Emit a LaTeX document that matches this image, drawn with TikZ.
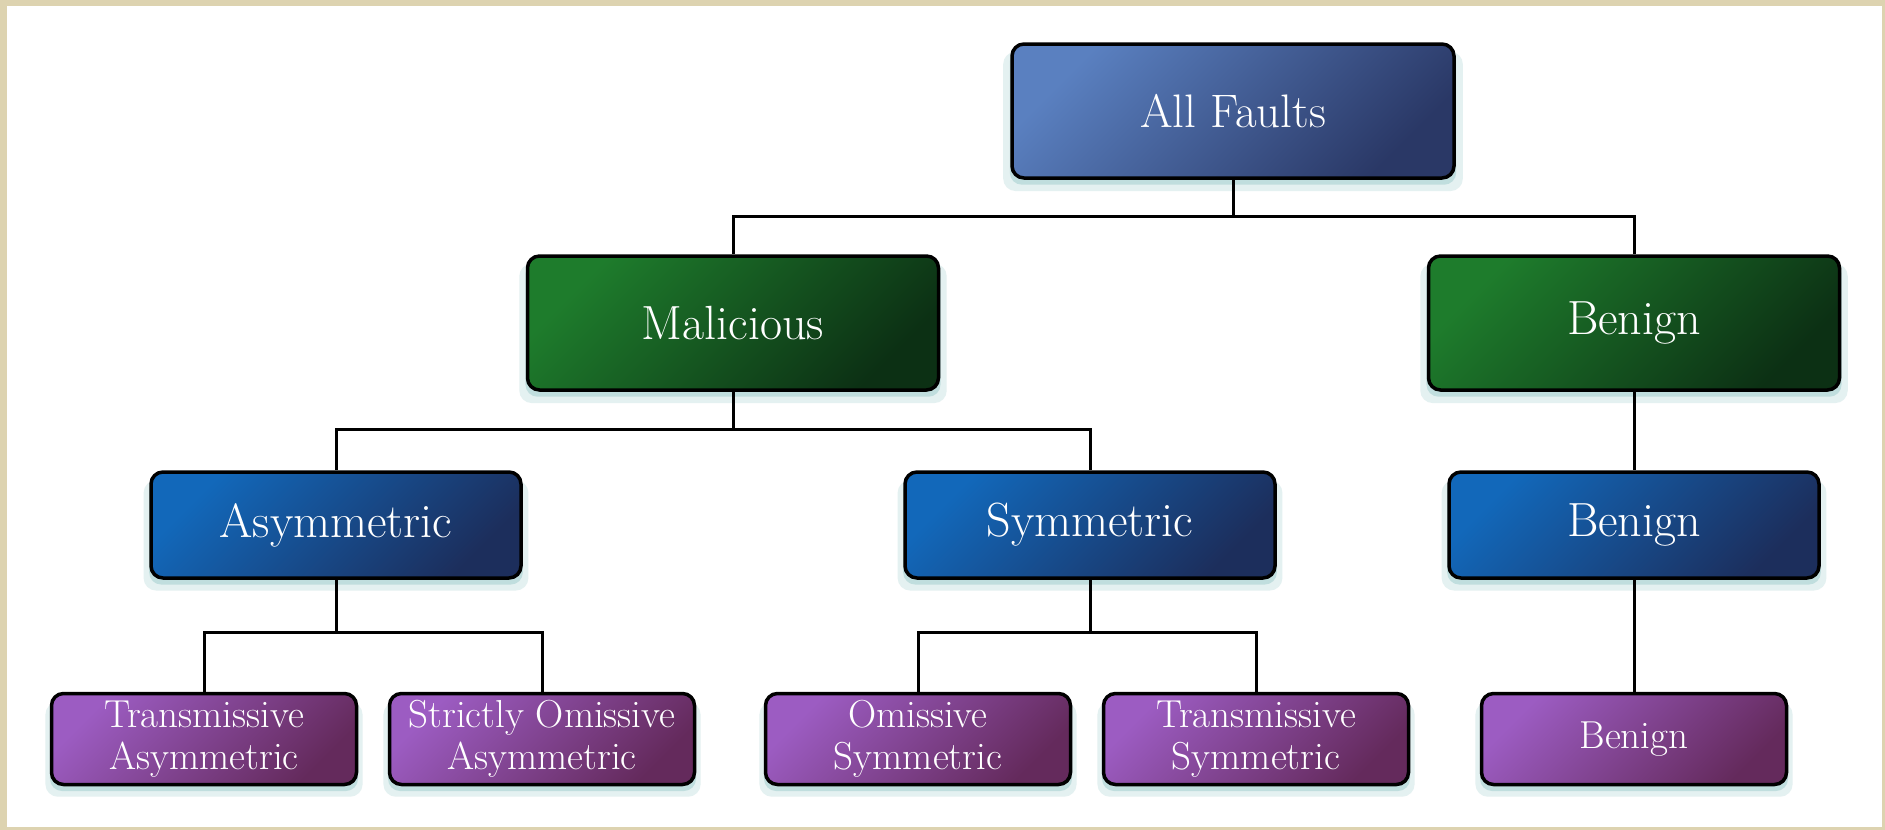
\documentclass[tikz,border=0pt]{standalone}
\usepackage{tikz}
\usetikzlibrary{shadows}

\definecolor{frameclr}{RGB}{221,211,176}
\definecolor{glowclr}{RGB}{150,200,200}
\definecolor{rootA}{RGB}{90,128,192}
\definecolor{rootB}{RGB}{42,56,102}
\definecolor{greenA}{RGB}{30,124,44}
\definecolor{greenB}{RGB}{12,48,20}
\definecolor{blueA}{RGB}{18,104,186}
\definecolor{blueB}{RGB}{28,46,92}
\definecolor{purpA}{RGB}{156,92,194}
\definecolor{purpB}{RGB}{100,42,92}

\tikzset{
  box/.style={draw=black, line width=1.75pt, rounded corners=6pt,
    text=white, align=center,
    general shadow={shadow yshift=-5pt, shadow scale=1.04, fill=glowclr, opacity=0.25},
    general shadow={shadow yshift=-3pt, shadow scale=1.01, fill=glowclr, opacity=0.45}},
  rootbox/.style={box, top color=rootA, bottom color=rootB, shading angle=45,
    minimum width=221pt, minimum height=67pt, font=\fontsize{23.5}{27}\selectfont},
  kindbox/.style={box, top color=greenA, bottom color=greenB, shading angle=45,
    minimum width=205.5pt, minimum height=67pt, font=\fontsize{24}{28}\selectfont},
  symbox/.style={box, top color=blueA, bottom color=blueB, shading angle=45,
    minimum width=185pt, minimum height=53pt, font=\fontsize{24}{28}\selectfont},
  leafbox/.style={box, top color=purpA, bottom color=purpB, shading angle=45,
    minimum width=152.5pt, minimum height=45.5pt, inner sep=0pt,
    font=\fontsize{19.5}{21}\selectfont},
  wire/.style={line width=1.5pt}
}

\begin{document}
\begin{tikzpicture}[x=0.5pt, y=-0.5pt]

% Frame
\useasboundingbox (0,0) rectangle (1885,830);
\fill[frameclr] (0,0) rectangle (1885,830);
\fill[white] (7,6) rectangle (1882,827);

% Bus points
\coordinate (b0) at (1233,216);
\coordinate (b1) at (733,429);
\coordinate (b2) at (336,632);
\coordinate (b3) at (1090,632);

% Boxes
\node[rootbox] (all) at (1233,111) {All Faults};

\node[kindbox] (mal) at (733,323) {Malicious};
\node[kindbox] (ben) at (1634,323) {Benign};

\node[symbox] (asym) at (336,525) {Asymmetric};
\node[symbox] (sym) at (1090,525) {Symmetric};
\node[symbox] (benb) at (1634,525) {Benign};

\node[leafbox] (tasym) at (204,739) {Transmissive\\Asymmetric};
\node[leafbox] (oasym) at (542,739) {Strictly Omissive\\Asymmetric};
\node[leafbox] (osym) at (918,739) {Omissive\\Symmetric};
\node[leafbox] (tsym) at (1256,739) {Transmissive\\Symmetric};
\node[leafbox] (benp) at (1634,739) {Benign};

% Connectors
\draw[wire] (all.south) -- (b0) -| (mal.north);
\draw[wire] (b0) -| (ben.north);

\draw[wire] (mal.south) -- (b1) -| (asym.north);
\draw[wire] (b1) -| (sym.north);
\draw[wire] (ben.south) -- (benb.north);

\draw[wire] (asym.south) -- (b2) -| (tasym.north);
\draw[wire] (b2) -| (oasym.north);
\draw[wire] (sym.south) -- (b3) -| (osym.north);
\draw[wire] (b3) -| (tsym.north);
\draw[wire] (benb.south) -- (benp.north);

\end{tikzpicture}
\end{document}
